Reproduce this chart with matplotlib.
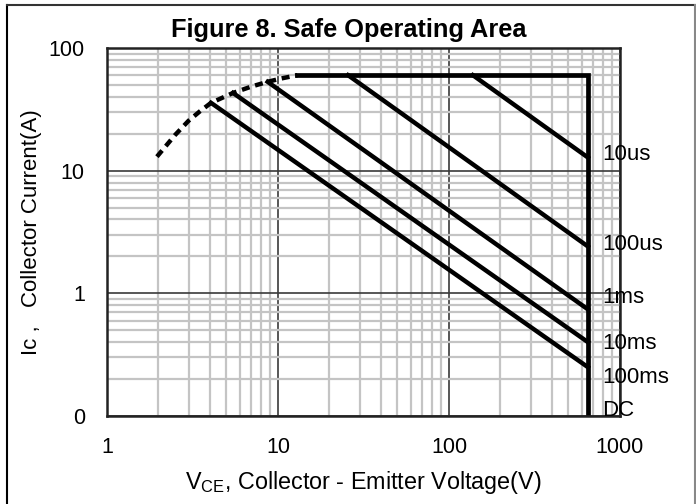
import numpy as np
import matplotlib.pyplot as plt
from matplotlib.lines import Line2D

plt.rcParams['font.family'] = ['Liberation Sans', 'DejaVu Sans']
plt.rcParams['mathtext.fontset'] = 'custom'
plt.rcParams['mathtext.rm'] = 'Liberation Sans'

# limit envelope (solid part): max current then max voltage
v_lim = [13, 650, 650]
i_lim = [60, 60, 0.1]

# dashed knee of the envelope
v_knee = [1.96, 2.5, 3.0, 3.5, 4.06, 5.46, 7.0, 8.7, 10.5, 13]
i_knee = [13, 19.5, 25.5, 30.5, 35.7, 43, 48.5, 53, 56.5, 60]

# pulse lines: (start V, start I) -> (end V, end I)
v_start = [138, 25.7, 8.7, 5.46, 4.06]
i_start = [60, 60, 53, 43, 35.7]
v_end = [650, 650, 650, 650, 650]
i_end = [12.8, 2.41, 0.74, 0.40, 0.25]

# labels on the right side
pulse_labels = ['10us', '100us', '1ms', '10ms', '100ms', 'DC']
label_i = [13.5, 2.5, 0.93, 0.39, 0.207, 0.11]
label_v = 790

fig = plt.figure(figsize=(6.96, 5.04), dpi=100)
ax = fig.add_axes([0.1537, 0.1746, 0.737, 0.7302])

ax.set_xscale('log')
ax.set_yscale('log')
ax.set_xlim(1, 1000)
ax.set_ylim(0.1, 100)

ax.grid(True, which='minor', color='#c4c4c4', lw=1.6)
ax.grid(True, which='major', color='#3a3a3a', lw=1.2)
ax.set_axisbelow(True)

ax.plot(v_knee, i_knee, color='black', lw=3.2, linestyle=(0, (1.8, 1.3)),
        solid_capstyle='butt')
ax.plot(v_lim, i_lim, color='black', lw=3.4, solid_joinstyle='miter')
for vs, is_, ve, ie in zip(v_start, i_start, v_end, i_end):
    ax.plot([vs, ve], [is_, ie], color='black', lw=3.2)

for lab, yi in zip(pulse_labels, label_i):
    ax.text(label_v, yi, lab, fontsize=16, va='center', ha='left', clip_on=False)

ax.set_xticks([1, 10, 100, 1000])
ax.set_xticklabels(['1', '10', '100', '1000'])
ax.set_yticks([0.1, 1, 10, 100])
ax.set_yticklabels(['0', '1', '10', '100'])
ax.tick_params(which='both', length=0, labelsize=15.5)
ax.tick_params(axis='x', pad=15)
ax.tick_params(axis='y', pad=16)

for s in ax.spines.values():
    s.set_color('#222222')
    s.set_linewidth(1.8)

ax.set_xlabel(r'V$_{\mathregular{CE}}$, Collector - Emitter Voltage(V)', fontsize=16.8, labelpad=8)
ax.set_ylabel('Ic ,   Collector Current(A)', fontsize=16)
ax.yaxis.set_label_coords(-0.127, 0.5)
ax.set_title('Figure 8. Safe Operating Area', fontsize=18.3, fontweight='bold',
             x=0.471, pad=8)

# page frame
fig.add_artist(Line2D([0.010, 0.010], [0, 0.990], color='black', lw=1.5, transform=fig.transFigure))
fig.add_artist(Line2D([0.010, 0.999], [0.990, 0.990], color='#333333', lw=1.5, transform=fig.transFigure))
fig.add_artist(Line2D([0.998, 0.998], [0, 0.990], color='#888888', lw=1.5, transform=fig.transFigure))

fig.savefig('out.png', dpi=100)
